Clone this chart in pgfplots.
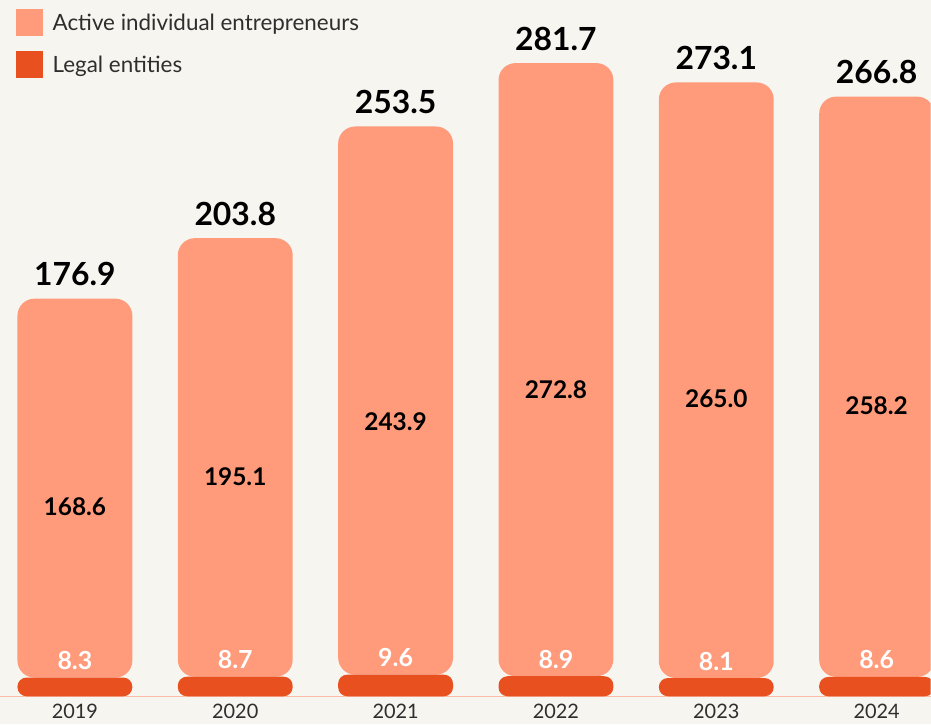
\documentclass[border=0pt]{standalone}
\usepackage{pgfplots}
\usepackage{pgfplotstable}
\pgfplotsset{compat=1.18}
\usepackage{fontspec}
\setmainfont{Lato}
\definecolor{bgc}{HTML}{F7F5F0}
\definecolor{iec}{HTML}{FF9B7B}
\definecolor{legc}{HTML}{E8511F}
\definecolor{basec}{HTML}{F9BCA8}
\definecolor{txtg}{HTML}{2E2E2E}
\pgfplotstableread{
x legal ie total
0 8.3 168.6 176.9
1 8.7 195.1 203.8
2 9.6 243.9 253.5
3 8.9 272.8 281.7
4 8.1 265.0 273.1
5 8.6 258.2 266.8
}\data
\begin{document}
\begin{tikzpicture}
\fill[bgc] (0,-28bp) rectangle (931bp,697bp);
\begin{axis}[
  scale only axis, width=931bp, height=697bp,
  xmin=-0.464, xmax=5.336, ymin=0, ymax=309.78,
  ybar stacked, bar width=115bp,
  axis x line*=bottom, axis y line=none, ytick=\empty,
  x axis line style={draw=basec, line width=1bp, -},
  xtick={0,1,2,3,4,5}, xticklabels={2019,2020,2021,2022,2023,2024},
  major tick length=0pt,
  xticklabel style={font=\fontsize{20}{20}\selectfont, text=txtg, yshift=-4bp},
  reverse legend,
  legend style={draw=none, fill=none, at={(0,1)}, anchor=north west,
    xshift=15bp, yshift=-9bp, inner sep=0pt, row sep=15bp,
    font=\fontsize{22.5}{22.5}\selectfont, text=txtg,
    nodes={inner sep=0pt, anchor=west}},
  legend cell align=left,
]
\addplot[fill=legc, draw=none, rounded corners=9bp,
  legend image code/.code={\fill[legc, sharp corners] (0bp,-13.5bp) rectangle (27bp,13.5bp); \path (37bp,0);}]
  table[x=x, y=legal] {\data};
\addlegendentry{Legal entities}
\addplot[fill=iec, draw=none, rounded corners=17bp,
  legend image code/.code={\fill[iec, sharp corners] (0bp,-13.5bp) rectangle (27bp,13.5bp); \path (37bp,0);}]
  table[x=x, y=ie] {\data};
\addlegendentry{Active individual entrepreneurs}
\end{axis}
\begin{axis}[
  scale only axis, width=931bp, height=697bp,
  xmin=-0.464, xmax=5.336, ymin=0, ymax=309.78,
  hide axis, clip=false,
]
\addplot[draw=none, mark=none, nodes near coords, point meta=explicit symbolic,
  nodes near coords style={anchor=base, yshift=13bp, text=black,
    font=\fontsize{32}{32}\selectfont\bfseries}]
  table[x=x, y=total, meta=total] {\data};
\addplot[draw=none, mark=none, nodes near coords, point meta=explicit symbolic,
  nodes near coords style={anchor=center, text=black,
    font=\fontsize{24.5}{24.5}\selectfont\bfseries}]
  table[x=x, y expr=\thisrow{ie}/2, meta=ie] {\data};
\addplot[draw=none, mark=none, nodes near coords, point meta=explicit symbolic,
  nodes near coords style={anchor=base, yshift=8bp, text=white,
    font=\fontsize{25}{25}\selectfont\bfseries}]
  table[x=x, y=legal, meta=legal] {\data};
\end{axis}
\end{tikzpicture}
\end{document}
